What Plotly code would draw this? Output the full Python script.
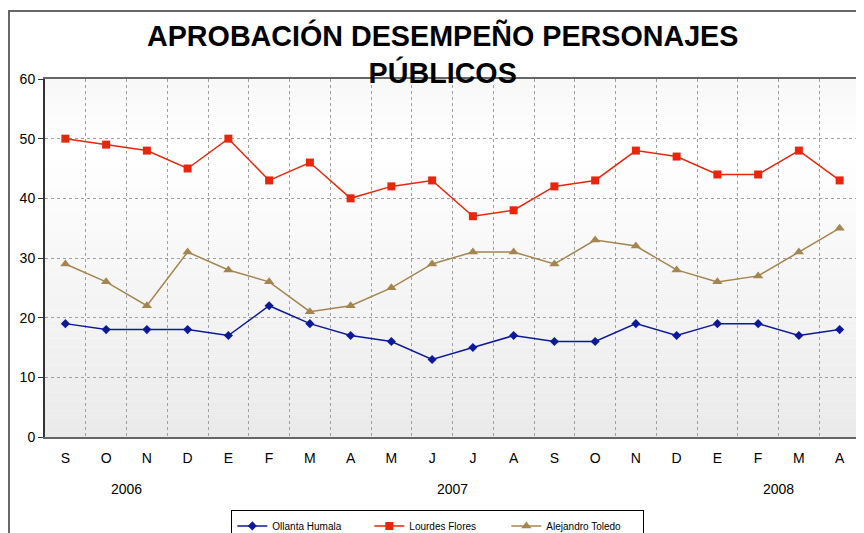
import plotly.graph_objects as go

years = ["2006"] * 4 + ["2007"] * 12 + ["2008"] * 4
months = ["S", "O", "N", "D", "E", "F", "M", "A", "M", "J", "J", "A",
          "S", "O", "N", "D", "E", "F", "M", "A"]

ollanta = [19, 18, 18, 18, 17, 22, 19, 17, 16, 13, 15, 17, 16, 16, 19, 17, 19, 19, 17, 18]
lourdes = [50, 49, 48, 45, 50, 43, 46, 40, 42, 43, 37, 38, 42, 43, 48, 47, 44, 44, 48, 43]
toledo = [29, 26, 22, 31, 28, 26, 21, 22, 25, 29, 31, 31, 29, 33, 32, 28, 26, 27, 31, 35]

FONT = "Liberation Sans, Arial, sans-serif"
pos = list(range(len(months)))

fig = go.Figure()
fig.add_trace(go.Scatter(
    x=pos, y=ollanta, name="Ollanta Humala", mode="lines+markers",
    line=dict(color="#0d1a98", width=1.5),
    marker=dict(symbol="diamond", size=7, color="#0d1a98"),
))
fig.add_trace(go.Scatter(
    x=pos, y=lourdes, name="Lourdes Flores", mode="lines+markers",
    line=dict(color="#e8260c", width=1.5),
    marker=dict(symbol="square", size=8, color="#e8260c"),
))
fig.add_trace(go.Scatter(
    x=pos, y=toledo, name="Alejandro Toledo", mode="lines+markers",
    line=dict(color="#a4854f", width=1.5),
    marker=dict(symbol="triangle-up", size=9, color="#a4854f"),
))

# year labels centred under each year's months
for yr in dict.fromkeys(years):
    idx = [i for i, v in enumerate(years) if v == yr]
    fig.add_annotation(x=sum(idx) / len(idx), y=-0.145, xref="x", yref="paper",
                       text=yr, showarrow=False, yanchor="middle",
                       font=dict(family=FONT, size=14, color="black"))

# title
fig.add_annotation(
    text="<b>APROBACIÓN DESEMPEÑO PERSONAJES<br>PÚBLICOS</b>",
    xref="paper", yref="paper", x=0.488, y=1.071, yanchor="middle",
    showarrow=False, font=dict(family=FONT, size=28.7, color="black"),
)

# soft vertical gradient behind the plot area
n_bands = 40
for i in range(n_bands):
    y0 = 60 * i / n_bands
    y1 = 60 * (i + 1) / n_bands
    mid = (y0 + y1) / 2
    if mid > 48:
        v = 255 - (mid - 48) * 0.6
    else:
        v = 234 + 21 * mid / 48
    v = int(round(v))
    fig.add_shape(type="rect", xref="paper", yref="y", x0=0, x1=1,
                  y0=y0, y1=y1, line_width=0, layer="below",
                  fillcolor=f"rgb({v},{v},{v})")

# outer frame
fig.add_shape(type="rect", xref="paper", yref="paper",
              x0=-0.0442, x1=1.2, y0=-0.5, y1=1.19,
              line=dict(color="#666666", width=2))

# page body adds an 8px offset, so the figure is 8px smaller
fig.update_layout(
    width=856, height=525,
    margin=dict(l=37, r=4, t=71, b=96, autoexpand=False),
    paper_bgcolor="white",
    plot_bgcolor="rgba(0,0,0,0)",
    font=dict(family=FONT, size=14, color="black"),
    showlegend=True,
    legend=dict(
        orientation="h", x=0.482, xanchor="center", y=-0.205, yanchor="top",
        bordercolor="black", borderwidth=1, bgcolor="white",
        font=dict(family=FONT, size=10), entrywidth=92,
        itemwidth=30,
    ),
    xaxis=dict(
        range=[-0.5, len(months) - 0.5], tickvals=pos, ticktext=months,
        showgrid=False, ticks="", ticklabelstandoff=7,
        minor=dict(tickvals=[i + 0.5 for i in pos[:-1]], showgrid=True,
                   gridcolor="#a0a0a0", griddash="3px,3px", gridwidth=1),
        showline=True, linecolor="#666666", linewidth=2, mirror=True,
        zeroline=False, automargin=False, tickfont=dict(size=14),
    ),
    yaxis=dict(
        range=[0, 60], dtick=10, showgrid=True, gridcolor="#a0a0a0",
        griddash="3px,3px", gridwidth=1, ticks="outside", ticklen=5,
        tickcolor="#333333", showline=True, linecolor="#333333", linewidth=2,
        mirror=True, zeroline=False, automargin=False, tickfont=dict(size=14),
    ),
)

fig.write_html("out.html")
